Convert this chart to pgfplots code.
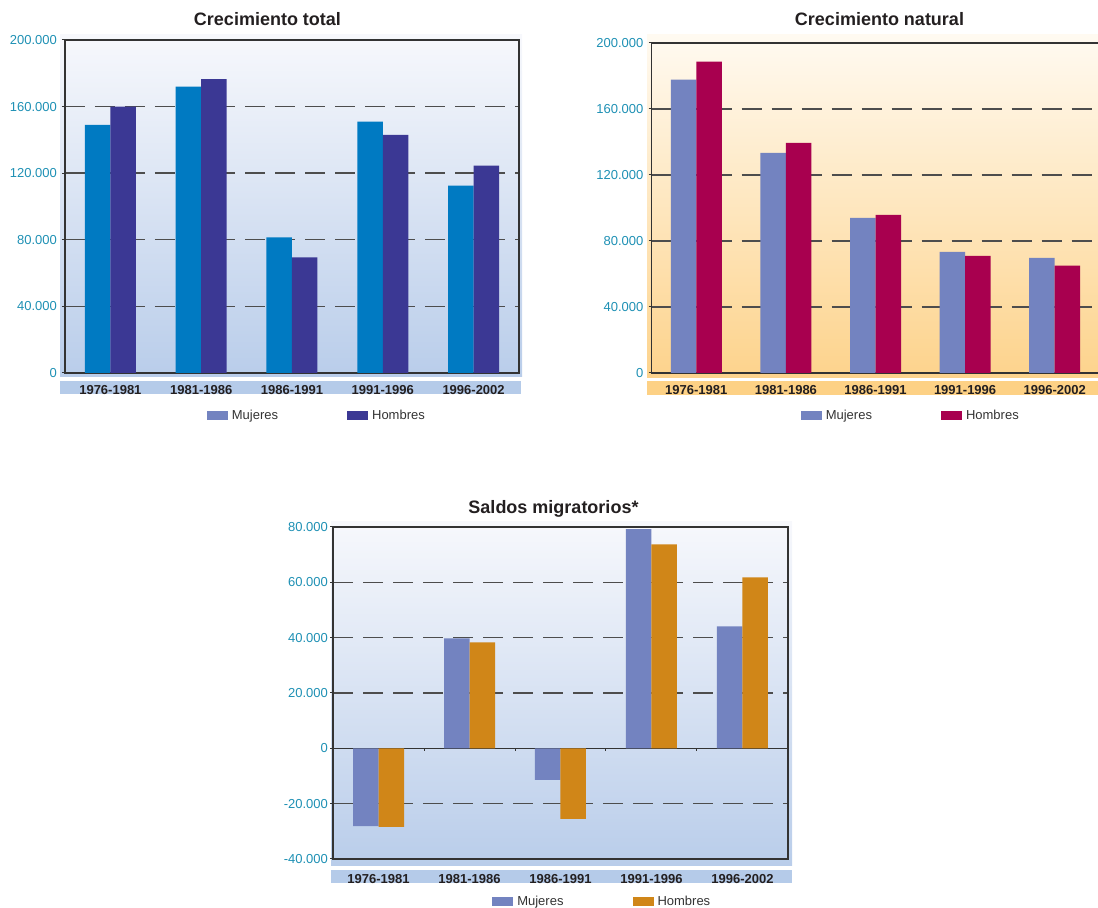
\documentclass[border=0pt]{standalone}
\usepackage{fontspec}
\setmainfont{Liberation Sans}
\usepackage{pgfplots}
\pgfplotsset{compat=1.18}

\definecolor{axisc}{HTML}{333333}
\definecolor{gridc}{HTML}{4D4D4D}
\definecolor{titc}{HTML}{231F20}
\definecolor{tickc}{HTML}{1E90B4}
\definecolor{legc}{HTML}{333333}
\definecolor{blueM}{HTML}{007AC2}
\definecolor{blueH}{HTML}{3B3894}
\definecolor{perw}{HTML}{7383C0}
\definecolor{crim}{HTML}{A8004F}
\definecolor{orng}{HTML}{D08618}
\definecolor{bgbt}{HTML}{F7F8FC}
\definecolor{bgbb}{HTML}{B9CDEA}
\definecolor{bandb}{HTML}{B5CBE9}
\definecolor{bgot}{HTML}{FFFAF1}
\definecolor{bgob}{HTML}{FDD38C}
\definecolor{bando}{HTML}{FDD185}

\tikzset{catsep/.style={draw=axisc, line width=0.5pt}}

\pgfplotsset{
  chartbase/.style={
    scale only axis,
    xmin=-0.5, xmax=4.5,
    xtick={0,1,2,3,4},
    xticklabels={1976-1981,1981-1986,1986-1991,1991-1996,1996-2002},
    xtick style={draw=none},
    xtick pos=bottom, ytick pos=left,
    scaled y ticks=false,
    tick align=outside,
    major tick length=1.5pt,
    axis line style={draw=axisc, line width=0.75pt},
    tick style={draw=axisc, line width=0.5pt},
    ymajorgrids,
    major grid style={draw=gridc, line width=0.7pt, dash pattern=on 10pt off 5pt},
    xticklabel style={font=\fontsize{6.5}{7}\selectfont\bfseries, text=titc, anchor=center, yshift=-7.25pt},
    yticklabel style={font=\fontsize{6.5}{7}\selectfont, text=tickc, xshift=1pt},
    legend columns=2,
    legend style={draw=none, fill=none, font=\fontsize{6.5}{7}\selectfont, text=legc,
      inner sep=0pt, anchor=center,
      /tikz/every even column/.append style={column sep=32.5pt}},
    legend image code/.code={\fill[##1, draw=none] (0pt,-2.25pt) rectangle (10.5pt,2.25pt);},
  },
  barM/.style={ybar, bar width=12.75pt, bar shift=-6.375pt, draw=none, fill=#1, forget plot},
  barH/.style={ybar, bar width=12.75pt, bar shift=6.375pt, draw=none, fill=#1, forget plot},
}

\begin{document}
\begin{tikzpicture}
\useasboundingbox (0,0) rectangle (549pt,454pt);

% panel backgrounds and category bands
\shade[top color=bgbt, bottom color=bgbb] (30pt,265.5pt) rectangle (261pt,436.5pt);
\fill[bandb] (30pt,257pt) rectangle (260.5pt,263.5pt);
\shade[top color=bgot, bottom color=bgob] (323.5pt,265pt) rectangle (549pt,436.5pt);
\fill[bando] (323.5pt,256.5pt) rectangle (549pt,263.5pt);
\shade[top color=bgbt, bottom color=bgbb] (165.5pt,21pt) rectangle (396pt,193pt);
\fill[bandb] (165.5pt,12.5pt) rectangle (396pt,19pt);

% titles
\node[font=\fontsize{9}{10}\selectfont\bfseries, text=titc] at (133.75pt,444.5pt) {Crecimiento total};
\node[font=\fontsize{9}{10}\selectfont\bfseries, text=titc] at (439.75pt,444.5pt) {Crecimiento natural};
\node[font=\fontsize{9}{10}\selectfont\bfseries, text=titc] at (276.75pt,199.5pt) {Saldos migratorios*};

% Crecimiento total
\begin{axis}[chartbase,
  at={(32.5pt,267.5pt)}, anchor=south west,
  width=227pt, height=166.5pt,
  ymin=0, ymax=200000,
  ytick={0,40000,80000,120000,160000,200000},
  yticklabels={0,40.000,80.000,120.000,160.000,200.000},
  legend style={at={(axis description cs:0.557,-0.129)}},
]
\addplot[barM=blueM] coordinates {(0,149000) (1,172000) (2,81500) (3,151000) (4,112500)};
\addplot[barH=blueH] coordinates {(0,160000) (1,176500) (2,69500) (3,143000) (4,124500)};
\addlegendimage{fill=perw}
\addlegendentry{Mujeres}
\addlegendimage{fill=blueH}
\addlegendentry{Hombres}
\draw[catsep] (axis cs:0.5,0) -- ([yshift=-1.5pt]axis cs:0.5,0);
\draw[catsep] (axis cs:1.5,0) -- ([yshift=-1.5pt]axis cs:1.5,0);
\draw[catsep] (axis cs:2.5,0) -- ([yshift=-1.5pt]axis cs:2.5,0);
\draw[catsep] (axis cs:3.5,0) -- ([yshift=-1.5pt]axis cs:3.5,0);
\end{axis}

% Crecimiento natural
\begin{axis}[chartbase,
  at={(325.75pt,267.5pt)}, anchor=south west,
  width=224pt, height=165pt,
  ymin=0, ymax=200000,
  ytick={0,40000,80000,120000,160000,200000},
  yticklabels={0,40.000,80.000,120.000,160.000,200.000},
  legend style={at={(axis description cs:0.581,-0.130)}},
]
\addplot[barM=perw] coordinates {(0,177800) (1,133400) (2,94000) (3,73400) (4,69800)};
\addplot[barH=crim] coordinates {(0,188700) (1,139400) (2,95800) (3,71000) (4,65000)};
\addlegendimage{fill=perw}
\addlegendentry{Mujeres}
\addlegendimage{fill=crim}
\addlegendentry{Hombres}
\draw[catsep] (axis cs:0.5,0) -- ([yshift=-1.5pt]axis cs:0.5,0);
\draw[catsep] (axis cs:1.5,0) -- ([yshift=-1.5pt]axis cs:1.5,0);
\draw[catsep] (axis cs:2.5,0) -- ([yshift=-1.5pt]axis cs:2.5,0);
\draw[catsep] (axis cs:3.5,0) -- ([yshift=-1.5pt]axis cs:3.5,0);
\end{axis}

% Saldos migratorios
\begin{axis}[chartbase,
  at={(166.5pt,24.5pt)}, anchor=south west,
  width=227.5pt, height=166pt,
  ymin=-40000, ymax=80000,
  ytick={-40000,-20000,20000,40000,60000,80000},
  yticklabels={-40.000,-20.000,20.000,40.000,60.000,80.000},
  extra y ticks={0}, extra y tick labels={0},
  extra y tick style={major grid style={solid, draw=axisc, line width=0.75pt}},
  yticklabel style={xshift=1.5pt},
  xticklabel style={yshift=-1.25pt},
  legend style={at={(axis description cs:0.594,-0.1295)}},
]
\addplot[barM=perw] coordinates {(0,-28100) (1,39700) (2,-11400) (3,79200) (4,44100)};
\addplot[barH=orng] coordinates {(0,-28400) (1,38300) (2,-25500) (3,73700) (4,61800)};
\addlegendimage{fill=perw}
\addlegendentry{Mujeres}
\addlegendimage{fill=orng}
\addlegendentry{Hombres}
\draw[catsep] (axis cs:0.5,0) -- ([yshift=-1.5pt]axis cs:0.5,0);
\draw[catsep] (axis cs:1.5,0) -- ([yshift=-1.5pt]axis cs:1.5,0);
\draw[catsep] (axis cs:2.5,0) -- ([yshift=-1.5pt]axis cs:2.5,0);
\draw[catsep] (axis cs:3.5,0) -- ([yshift=-1.5pt]axis cs:3.5,0);
\end{axis}
\end{tikzpicture}
\end{document}
